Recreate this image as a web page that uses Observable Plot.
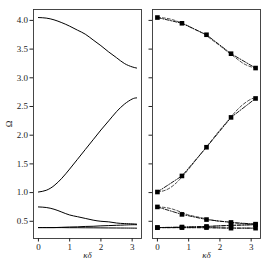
<!DOCTYPE html>
<html><head><meta charset="utf-8">
<script src="https://cdn.jsdelivr.net/npm/d3@7"></script>
<script src="https://cdn.jsdelivr.net/npm/@observablehq/plot@0.6"></script>
<style>
html,body{margin:0;padding:0;background:#fff;}
#wrap{position:relative;width:269px;height:269px;}
#left{position:absolute;left:0;top:0;}
#right{position:absolute;left:145px;top:0;}
g[aria-label="x-axis label"] text{font-style:italic;}
</style>
</head><body>
<div id="wrap"><div id="left"></div><div id="right"></div></div>
<script>
// dense curves (left panel & dashed in right panel)
const kd = [0, 0.25, 0.5, 0.75, 1.0, 1.25, 1.5, 1.75, 2.0, 2.25, 2.5, 2.75, 3.0, 3.1416];
const band1 = [4.05, 4.04, 4.01, 3.96, 3.90, 3.83, 3.76, 3.66, 3.56, 3.45, 3.35, 3.25, 3.19, 3.17];
const band2 = [1.01, 1.04, 1.12, 1.25, 1.41, 1.58, 1.75, 1.92, 2.09, 2.25, 2.41, 2.54, 2.63, 2.65];
const band3 = [0.75, 0.74, 0.71, 0.66, 0.61, 0.58, 0.55, 0.52, 0.50, 0.49, 0.47, 0.46, 0.455, 0.45];
const band4 = [0.39, 0.39, 0.39, 0.395, 0.40, 0.403, 0.41, 0.413, 0.42, 0.425, 0.43, 0.435, 0.44, 0.44];
const band5 = [0.39, 0.39, 0.39, 0.39, 0.388, 0.388, 0.387, 0.386, 0.385, 0.384, 0.383, 0.382, 0.381, 0.38];
// sampled points (right panel markers)
const kdPts = [0, 0.7854, 1.5708, 2.3562, 3.1416];
const pts1 = [4.05, 3.95, 3.75, 3.42, 3.17];
const pts2 = [1.01, 1.29, 1.79, 2.31, 2.64];
const pts3 = [0.75, 0.62, 0.53, 0.48, 0.45];
const pts4 = [0.39, 0.40, 0.41, 0.43, 0.44];
const pts5 = [0.39, 0.39, 0.39, 0.38, 0.38];
const yTicks = [0.5, 1.0, 1.5, 2.0, 2.5, 3.0, 3.5, 4.0];
const xTicks = [0, 1, 2, 3];

const bands = [band1, band2, band3, band4, band5];
const ptsAll = [pts1, pts2, pts3, pts4, pts5];
const dense = bands.flatMap((b, i) => b.map((v, j) => ({x: kd[j], y: v, s: i})));
const pts = ptsAll.flatMap((b, i) => b.map((v, j) => ({x: kdPts[j], y: v, s: i})));

function panel(isLeft) {
  const marks = [
    Plot.frame({stroke: "#333", strokeWidth: 0.9}),
    Plot.axisX({ticks: xTicks, tickFormat: "d", tickSize: 3.5, tickPadding: 2, label: "κδ", labelAnchor: "center", labelArrow: "none", labelOffset: 19}),
    Plot.axisY({ticks: yTicks, tickSize: 3.5, tickPadding: 2,
      tickFormat: isLeft ? (d => d.toFixed(1)) : (() => ""),
      label: isLeft ? "Ω" : null, labelAnchor: "center", labelArrow: "none", labelOffset: 28})
  ];
  if (isLeft) {
    marks.push(Plot.line(dense, {x: "x", y: "y", z: "s", stroke: "black", strokeWidth: 1, curve: "natural"}));
  } else {
    marks.push(Plot.line(dense, {x: "x", y: "y", z: "s", stroke: "black", strokeWidth: 0.7, strokeDasharray: "3,2", curve: "natural"}));
    marks.push(Plot.line(pts, {x: "x", y: "y", z: "s", stroke: "black", strokeWidth: 0.9, strokeDasharray: "4,1.5,1,1.5"}));
    marks.push(Plot.dot(pts, {x: "x", y: "y", symbol: "square", r: 2.6, fill: "black", stroke: "none"}));
  }
  return Plot.plot({
    width: isLeft ? 145 : 124, height: 269,
    marginLeft: isLeft ? 33 : 7, marginRight: isLeft ? 4 : 9, marginTop: 9, marginBottom: 31,
    x: {domain: [-0.157, 3.299]},
    y: {domain: [0.2, 4.19]},
    style: {fontFamily: "'Liberation Serif', serif", fontSize: "9px", background: "white", color: "#222"},
    marks
  });
}
document.getElementById("left").appendChild(panel(true));
document.getElementById("right").appendChild(panel(false));
</script>
</body></html>
